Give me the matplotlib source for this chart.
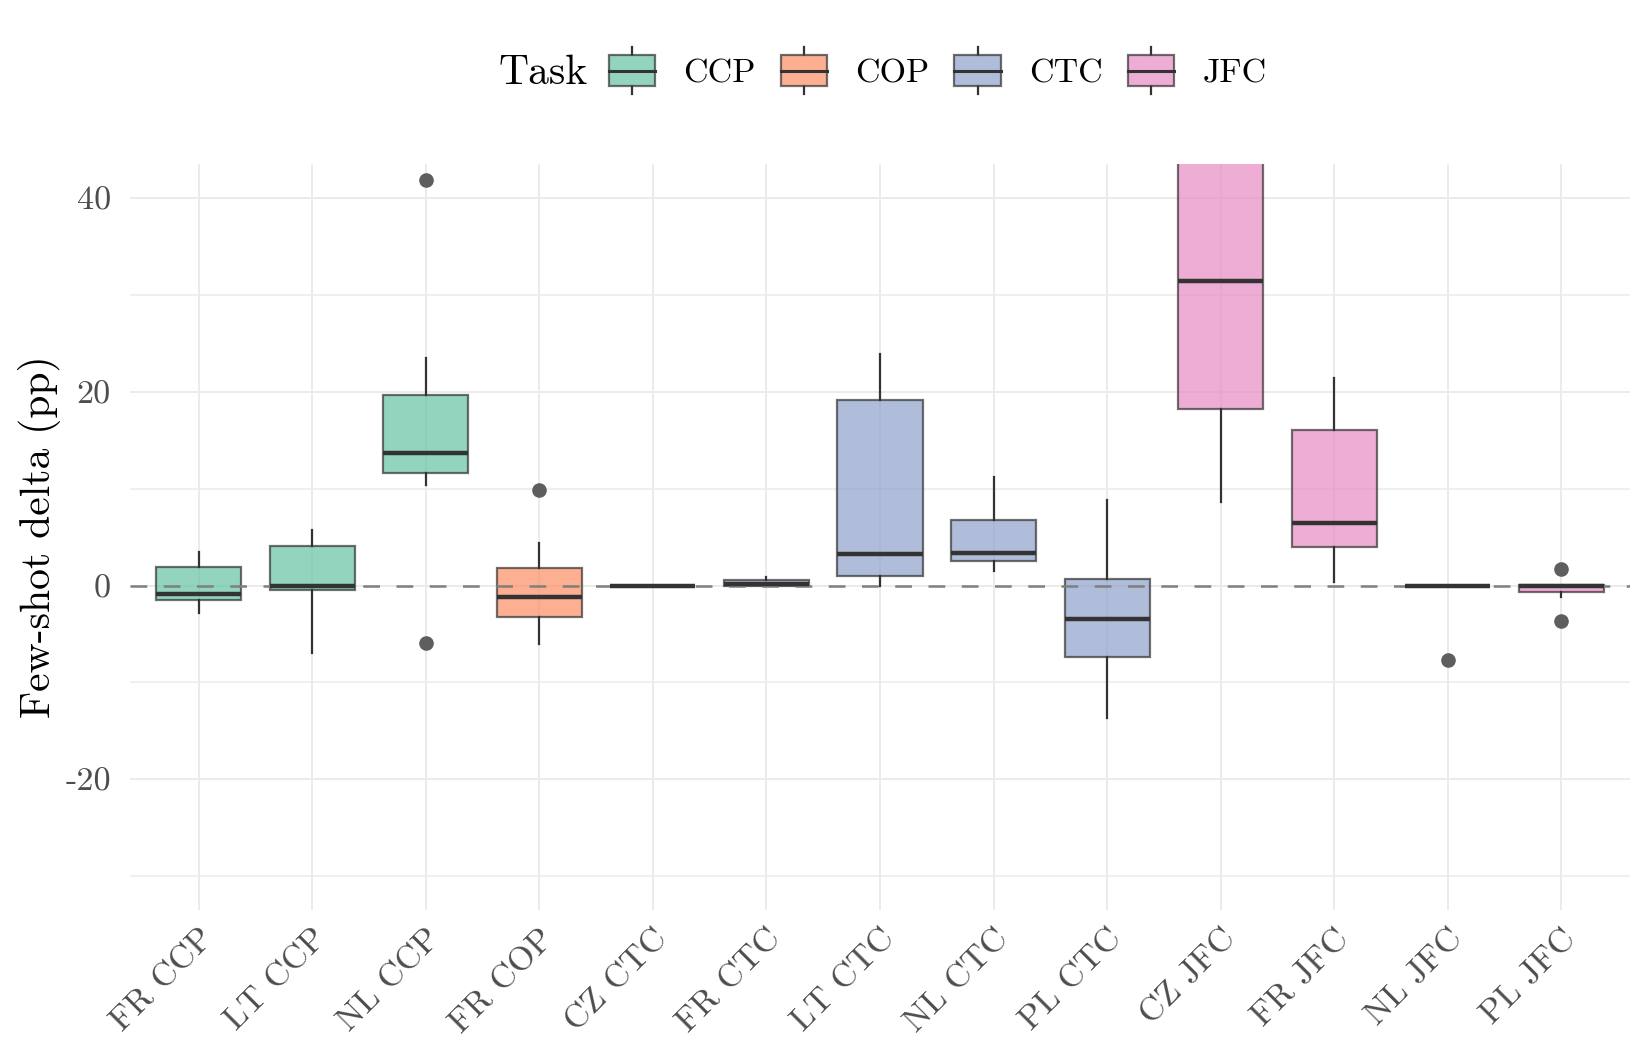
import matplotlib
matplotlib.use("Agg")
import matplotlib.pyplot as plt
from matplotlib.legend_handler import HandlerBase
from matplotlib.patches import Rectangle
from matplotlib.lines import Line2D

plt.rcParams['font.family'] = ['cmr10', 'DejaVu Serif']
plt.rcParams['axes.unicode_minus'] = False
plt.rcParams['mathtext.fontset'] = 'cm'

# Data
labels = ['FR CCP', 'LT CCP', 'NL CCP', 'FR COP', 'CZ CTC', 'FR CTC', 'LT CTC',
          'NL CTC', 'PL CTC', 'CZ JFC', 'FR JFC', 'NL JFC', 'PL JFC']
tasks = ['CCP', 'CCP', 'CCP', 'COP', 'CTC', 'CTC', 'CTC',
         'CTC', 'CTC', 'JFC', 'JFC', 'JFC', 'JFC']
whislo = [-2.8, -6.95, 10.4, -6.0, 0.0, 0.0, 0.0, 1.45, -13.7, 8.6, 0.4, 0.0, -1.2]
q1 = [-1.45, -0.45, 11.6, -3.3, 0.0, 0.0, 1.0, 2.5, -7.35, 18.2, 4.0, 0.0, -0.7]
med = [-0.85, 0.0, 13.7, -1.15, 0.0, 0.2, 3.3, 3.4, -3.5, 31.4, 6.4, 0.0, 0.0]
q3 = [1.9, 4.1, 19.65, 1.8, 0.0, 0.55, 19.15, 6.75, 0.7, 48.0, 16.0, 0.0, 0.1]
whishi = [3.45, 5.7, 23.45, 4.4, 0.0, 0.85, 23.9, 11.2, 8.8, 58.0, 21.4, 0.0, 0.1]
fliers = [[], [], [41.85, -5.95], [9.85], [], [], [], [], [], [], [], [-7.65], [1.7, -3.7]]

task_names = ['CCP', 'COP', 'CTC', 'JFC']
task_colors = {'CCP': '#66C2A5', 'COP': '#FC8D62', 'CTC': '#8DA0CB', 'JFC': '#E78AC3'}

TICK_FS = 24.5
TITLE_FS = 30
EDGE = (0.2, 0.2, 0.2, 0.7)

fig = plt.figure(figsize=(16.51, 10.51), dpi=100)
ax = fig.add_axes([0.079, 0.134, 0.908, 0.710])

stats = []
for i in range(len(labels)):
    stats.append(dict(label=labels[i], whislo=whislo[i], q1=q1[i], med=med[i],
                      q3=q3[i], whishi=whishi[i], fliers=fliers[i]))

positions = list(range(1, len(labels) + 1))
bp = ax.bxp(stats, positions=positions, widths=0.75, patch_artist=True,
            showcaps=False,
            boxprops=dict(linewidth=1.6),
            medianprops=dict(color='#333333', linewidth=3.2, zorder=4,
                             solid_capstyle='butt'),
            whiskerprops=dict(color='#333333', linewidth=1.6),
            flierprops=dict(marker='o', markerfacecolor='#5e5e5e',
                            markeredgecolor='#5e5e5e', markersize=9.5))

for patch, t in zip(bp['boxes'], tasks):
    patch.set_alpha(None)
    patch.set_facecolor(matplotlib.colors.to_rgba(task_colors[t], 0.7))
    patch.set_edgecolor(EDGE)

ax.axhline(0, color='#7f7f7f', linestyle=(0, (6.7, 6.6)), linewidth=1.8, zorder=3)

ax.set_xlim(0.4, len(labels) + 0.6)
ax.set_ylim(-33.5, 43.5)
ax.set_yticks([-20, 0, 20, 40])
ax.set_yticklabels(['-20', '0', '20', '40'])
ax.set_yticks([-30, -10, 10, 30], minor=True)
ax.set_xticks(positions)
ax.set_xticklabels(labels, rotation=45, ha='right', va='top',
                   rotation_mode='anchor')

ax.grid(True, which='major', color='#EBEBEB', linewidth=1.4)
ax.grid(True, which='minor', axis='y', color='#EBEBEB', linewidth=1.1)
ax.set_axisbelow(True)
for s in ax.spines.values():
    s.set_visible(False)
ax.tick_params(axis='both', which='both', length=0, labelsize=TICK_FS,
               colors='#4D4D4D')
ax.tick_params(axis='y', pad=14)
ax.tick_params(axis='x', pad=10)

ax.set_ylabel('Few-shot delta (pp)', fontsize=TITLE_FS)
ax.yaxis.set_label_coords(-0.046, 0.5)


class BoxHandler(HandlerBase):
    def create_artists(self, legend, orig_handle, xdescent, ydescent,
                       width, height, fontsize, trans):
        cy = height / 2 - ydescent
        bh = 0.93 * fontsize
        wh = 1.39 * fontsize
        x0 = -xdescent
        rect = Rectangle((x0, cy - bh / 2), width, bh,
                         facecolor=matplotlib.colors.to_rgba(orig_handle, 0.7),
                         edgecolor=EDGE, linewidth=1.6, transform=trans)
        midx = x0 + width / 2
        w1 = Line2D([midx, midx], [cy + bh / 2, cy + wh / 2], color='#333333',
                    linewidth=1.6, transform=trans)
        w2 = Line2D([midx, midx], [cy - bh / 2, cy - wh / 2], color='#333333',
                    linewidth=1.6, transform=trans)
        m = Line2D([x0, x0 + width], [cy, cy], color='#333333', linewidth=2.2,
                   transform=trans)
        return [w1, w2, rect, m]


handles = [task_colors[t] for t in task_names]
fig.text(0.3017, 0.930, 'Task', fontsize=TITLE_FS, ha='left', va='center')
fig.legend(handles, task_names, handler_map={str: BoxHandler()},
           loc='center left', bbox_to_anchor=(0.3686, 0.930), ncol=4,
           frameon=False, fontsize=TICK_FS, borderpad=0, borderaxespad=0,
           handlelength=1.36, handletextpad=0.83, columnspacing=0.74)

fig.savefig('out.png', dpi=100)
